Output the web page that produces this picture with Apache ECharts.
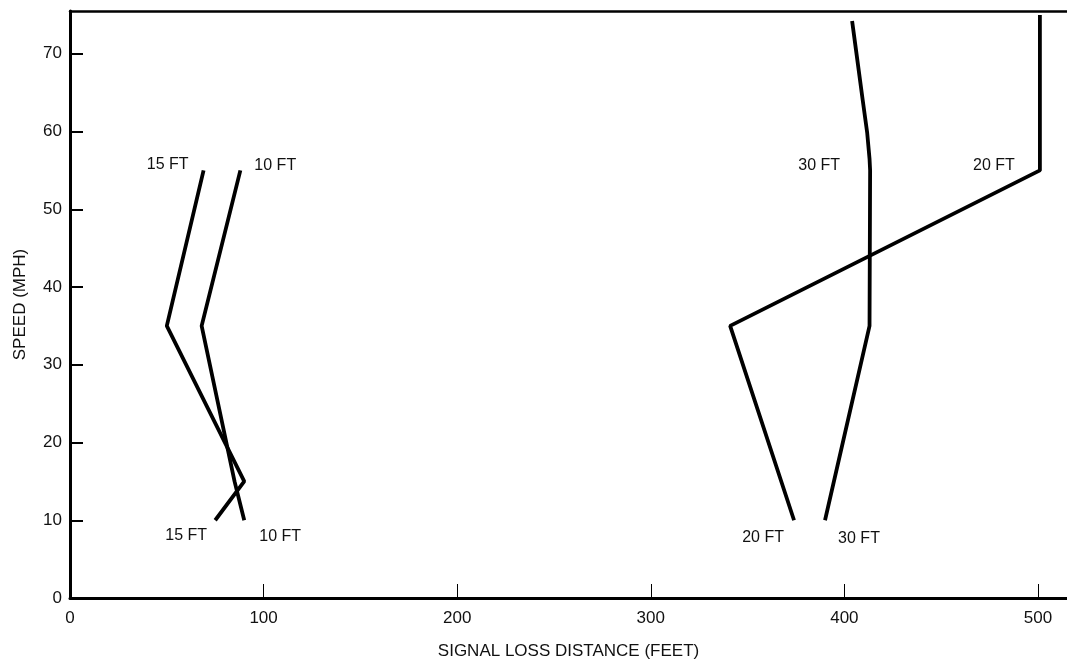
<!DOCTYPE html>
<html>
<head>
<meta charset="utf-8">
<script src="https://cdn.jsdelivr.net/npm/echarts@6/dist/echarts.min.js"></script>
<style>
html,body{margin:0;padding:0;background:#fff;}
#c{width:1067px;height:668px;}
</style>
</head>
<body>
<div id="c"></div>
<script>
// Data: [signal loss distance (feet), speed (mph)]
const ft10 = [[88, 55], [68, 35], [85, 15], [90, 10]];
const ft15 = [[69, 55], [50, 35], [90, 15], [75, 10]];
const ft20 = [[501, 75], [501, 55], [341, 35], [374, 10]];
const ft30 = [[404, 74.2], [406, 70.5], [409.5, 64], [411.8, 59.8], [413, 56.5], [413.3, 55], [413, 35], [390, 10]];
const xTicks = [0, 100, 200, 300, 400, 500];
const yTicks = [0, 10, 20, 30, 40, 50, 60, 70];

const FONT = 'Liberation Sans, Arial, sans-serif';
const lbl = (name, position, distance, offset) => ({
  show: true, formatter: name, position, distance, offset,
  color: '#111', fontSize: 16, fontFamily: FONT
});
function series(name, pts, topLbl, botLbl) {
  return {
    type: 'line', name,
    symbol: 'circle', symbolSize: 0, showSymbol: true,
    lineStyle: { color: '#000', width: 3.8 },
    itemStyle: { color: '#000' },
    silent: true, animation: false,
    data: pts.map((p, i) => {
      const d = { value: p };
      if (topLbl && p[1] === 55) d.label = topLbl;
      if (botLbl && i === pts.length - 1) d.label = botLbl;
      return d;
    })
  };
}

const chart = echarts.init(document.getElementById('c'));
chart.setOption({
  backgroundColor: '#fff',
  animation: false,
  grid: { left: 70, right: 0, top: 11, bottom: 70, show: false },
  xAxis: [{
    type: 'value', min: 0, max: 515, interval: 100,
    name: 'SIGNAL LOSS DISTANCE (FEET)', nameLocation: 'middle', nameGap: 45,
    nameTextStyle: { color: '#111', fontSize: 17, fontFamily: FONT },
    axisLine: { lineStyle: { color: '#000', width: 3 } },
    axisTick: { inside: true, length: 14, lineStyle: { color: '#000', width: 1 } },
    axisLabel: { color: '#111', fontSize: 17, fontFamily: FONT, margin: 12,
      showMaxLabel: false, formatter: v => xTicks.includes(v) ? String(v) : '' },
    splitLine: { show: false }
  }, {
    type: 'value', position: 'top', min: 0, max: 515,
    axisLine: { show: true, lineStyle: { color: '#000', width: 2.5 } },
    axisTick: { show: false }, axisLabel: { show: false }, splitLine: { show: false }
  }],
  yAxis: {
    type: 'value', min: 0, max: 75.5, interval: 10,
    name: 'SPEED (MPH)', nameLocation: 'middle', nameGap: 41,
    nameTextStyle: { color: '#111', fontSize: 17, fontFamily: FONT },
    axisLine: { lineStyle: { color: '#000', width: 3 } },
    axisTick: { inside: true, length: 13, lineStyle: { color: '#000', width: 2 } },
    axisLabel: { color: '#111', fontSize: 17, fontFamily: FONT, margin: 8,
      showMaxLabel: false, formatter: v => yTicks.includes(v) ? String(v) : '' },
    splitLine: { show: false }
  },
  series: [
    series('10 FT', ft10, lbl('10 FT', 'right', 14, [0, -5]), lbl('10 FT', 'bottom', 5, [36, 3])),
    series('15 FT', ft15, lbl('15 FT', 'left', 15, [0, -6]), lbl('15 FT', 'bottom', 5, [-29, 2])),
    series('20 FT', ft20, lbl('20 FT', 'left', 25, [0, -5]), lbl('20 FT', 'bottom', 5, [-31, 4])),
    series('30 FT', ft30, lbl('30 FT', 'left', 30, [0, -5]), lbl('30 FT', 'bottom', 5, [34, 5]))
  ]
});
</script>
</body>
</html>
